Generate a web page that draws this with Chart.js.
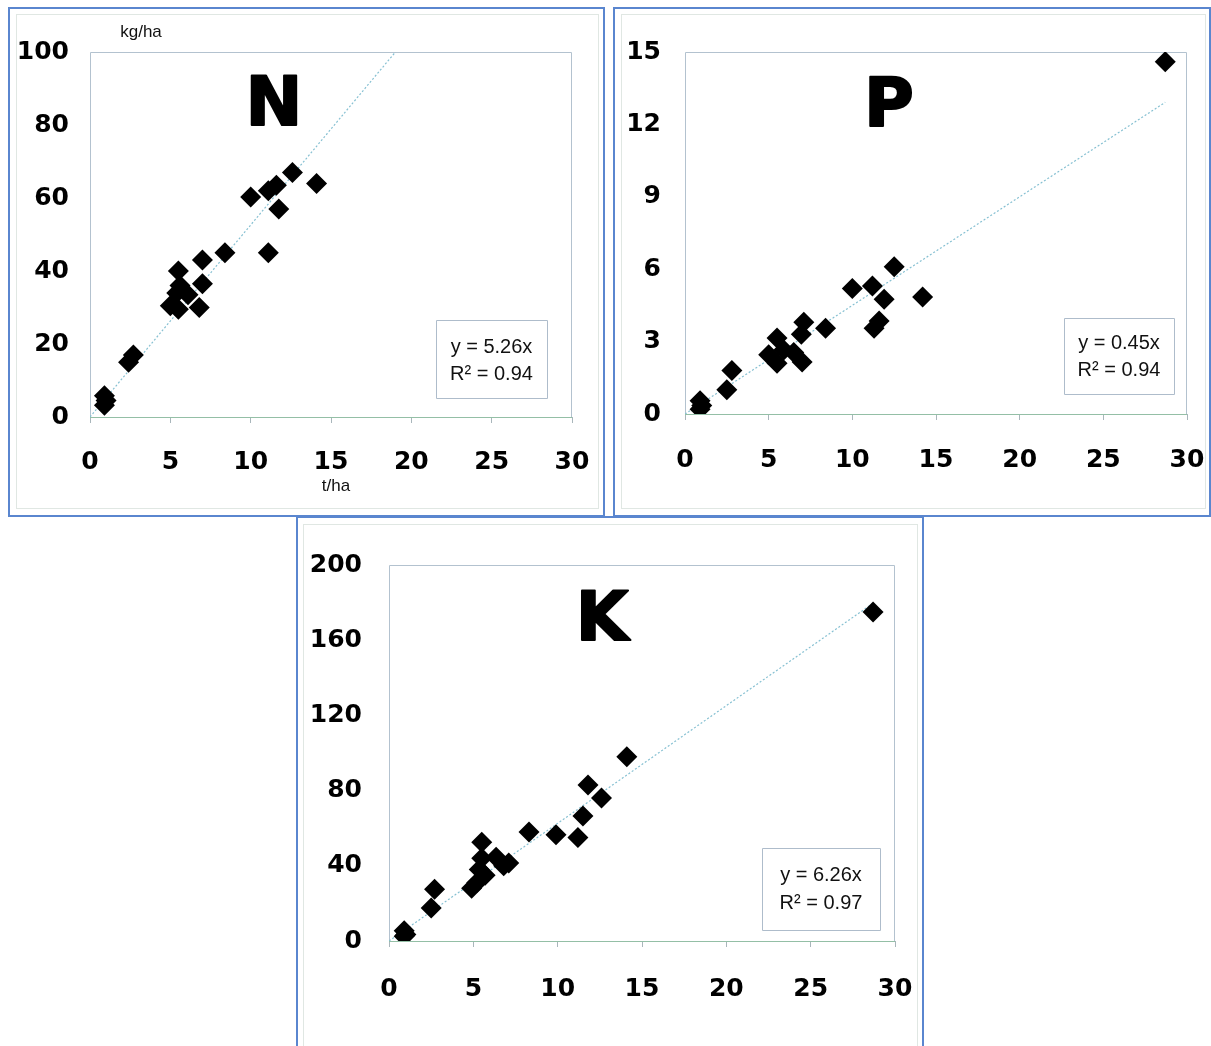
<!DOCTYPE html>
<html><head><meta charset="utf-8">
<script src="https://cdn.jsdelivr.net/npm/chart.js@4"></script>
<style>
html,body{margin:0;padding:0;background:#fff}
body{width:1211px;height:1046px;overflow:hidden;position:relative}
.panel{position:absolute;border:2px solid #5a86cf;box-sizing:border-box;background:#fff}
.inner{position:absolute;border:1px solid #e0e7e3;box-sizing:border-box}
canvas{position:absolute}
</style></head><body>
<div class="panel" style="left:8px;top:7px;width:597px;height:510px"></div>
<div class="inner" style="left:16px;top:14px;width:583px;height:495px"></div>
<div class="panel" style="left:613px;top:7px;width:598px;height:510px"></div>
<div class="inner" style="left:621px;top:14px;width:585px;height:495px"></div>
<div class="panel" style="left:296px;top:516px;width:628px;height:540px"></div>
<div class="inner" style="left:303px;top:524px;width:615px;height:530px"></div>
<canvas id="cN"></canvas>
<canvas id="cP"></canvas>
<canvas id="cK"></canvas>
<script>
// ---- data (x = yield t/ha, y = uptake kg/ha) ----
const xTickValues = [0, 5, 10, 15, 20, 25, 30];
const nX = [0.9, 1.0, 0.9, 2.4, 2.7, 5.0, 5.4, 5.5, 5.5, 5.6, 6.1, 6.8, 7.0, 7.0, 8.4, 10.0, 11.1, 11.1, 11.6, 11.75, 12.6, 14.1];
const nY = [5.8, 4.5, 3.2, 15, 17, 30.5, 34, 29.5, 40, 36, 33.5, 30, 36.5, 43, 45, 60.3, 62, 45, 63.5, 57, 67, 64];
const pX = [0.9, 1.0, 0.9, 2.5, 2.8, 5.0, 5.5, 5.5, 5.9, 6.5, 7.0, 6.95, 7.1, 8.4, 10.0, 11.2, 11.9, 11.3, 11.6, 12.5, 14.2, 28.7];
const pY = [0.55, 0.35, 0.2, 1.0, 1.8, 2.45, 3.15, 2.1, 2.65, 2.55, 2.15, 3.3, 3.8, 3.55, 5.2, 5.3, 4.75, 3.55, 3.85, 6.1, 4.85, 14.6];
const kX = [0.9, 1.0, 0.9, 2.5, 2.7, 4.9, 5.2, 5.35, 5.5, 5.5, 5.7, 6.35, 6.8, 7.1, 8.3, 9.9, 11.2, 11.5, 11.8, 12.6, 14.1, 28.7];
const kY = [5.5, 3.5, 2.5, 17.5, 27.5, 28, 31, 38, 44, 52.5, 35, 44.5, 40, 41.5, 58, 56.5, 55, 66.5, 83, 76, 98, 175];
const trendX = [0, 28.7];
const slopeN = 5.26, slopeP = 0.45, slopeK = 6.26;
const r2N = '0.94', r2P = '0.94', r2K = '0.97';
const yTicksN = [0, 20, 40, 60, 80, 100];
const yTicksP = [0, 3, 6, 9, 12, 15];
const yTicksK = [0, 40, 80, 120, 160, 200];

const pts = (xs, ys) => xs.map((x, i) => ({x: x, y: ys[i]})).filter(p => p.y !== null);
const trend = (s) => trendX.map(x => ({x: x, y: s * x}));

const deco = {
  id: 'deco',
  beforeDatasetsDraw(chart) {
    const a = chart.chartArea, ctx = chart.ctx;
    ctx.save();
    ctx.lineWidth = 1;
    ctx.strokeStyle = '#b3c2cf';
    ctx.beginPath();
    ctx.moveTo(a.left + 0.5, a.bottom); ctx.lineTo(a.left + 0.5, a.top + 0.5);
    ctx.lineTo(a.right - 0.5, a.top + 0.5); ctx.lineTo(a.right - 0.5, a.bottom);
    ctx.stroke();
    ctx.strokeStyle = '#94bfa6';
    ctx.beginPath(); ctx.moveTo(a.left, a.bottom + 0.5); ctx.lineTo(a.right, a.bottom + 0.5); ctx.stroke();
    ctx.restore();
  },
  afterDraw(chart) {
    const o = chart.options.plugins.deco, ctx = chart.ctx;
    if (!o) return;
    const ox = o.ox, oy = o.oy;
    ctx.save();
    ctx.fillStyle = '#000'; ctx.strokeStyle = '#000';
    ctx.textAlign = 'center'; ctx.textBaseline = 'middle';
    ctx.font = 'bold 68px "DejaVu Sans"';
    ctx.lineWidth = 2; ctx.lineJoin = 'round';
    ctx.fillText(o.letter, o.letterPos[0] - ox, o.letterPos[1] - oy);
    ctx.strokeText(o.letter, o.letterPos[0] - ox, o.letterPos[1] - oy);
    // equation box
    const b = o.box;
    ctx.strokeStyle = '#aebccb'; ctx.lineWidth = 1;
    ctx.strokeRect(b[0] - ox + 0.5, b[1] - oy + 0.5, b[2] - b[0], b[3] - b[1]);
    ctx.font = '20px "Liberation Sans"';
    ctx.fillStyle = '#111';
    const cx = (b[0] + b[2]) / 2 - ox;
    ctx.fillText(o.lines[0], cx, o.lineY[0] - oy);
    ctx.fillText(o.lines[1], cx, o.lineY[1] - oy);
    if (o.titles) {
      ctx.font = '17px "Liberation Sans"';
      o.titles.forEach(t => ctx.fillText(t.text, t.x - ox, t.y - oy));
    }
    ctx.restore();
  }
};

function build(id, g) {
  const cv = document.getElementById(id);
  cv.style.left = g.cl + 'px'; cv.style.top = g.ct + 'px';
  cv.width = g.cw; cv.height = g.ch;
  cv.style.width = g.cw + 'px'; cv.style.height = g.ch + 'px';
  const tickFont = {family: 'DejaVu Sans', weight: 'bold', size: 25};
  new Chart(cv, {
    type: 'scatter',
    data: {datasets: [
      {data: pts(g.xs, g.ys), pointStyle: 'rectRot', pointRadius: 10.5, pointHoverRadius: 10.5,
       backgroundColor: '#000', borderColor: '#000', borderWidth: 0, order: 0},
      {data: trend(g.slope), showLine: true, pointRadius: 0, borderColor: '#86c0d2', borderWidth: 1.2,
       borderDash: [2, 2], order: 1}
    ]},
    options: {
      responsive: false, animation: false, devicePixelRatio: 1,
      layout: {padding: {left: 0, top: g.pt - g.ct, right: (g.cl + g.cw) - g.pr, bottom: 0}},
      plugins: {legend: {display: false}, tooltip: {enabled: false},
        deco: {ox: g.cl, oy: g.ct, letter: g.letter, letterPos: g.letterPos, box: g.box,
               lines: ['y = ' + g.slope.toFixed(2) + 'x', 'R\u00b2 = ' + g.r2], lineY: g.lineY, titles: g.titles}},
      scales: {
        x: {type: 'linear', min: 0, max: 30,
            afterBuildTicks: s => { s.ticks = xTickValues.map(v => ({value: v})); },
            afterFit: s => { s.height = (g.ct + g.ch) - g.pb; s.paddingLeft = 0; s.paddingRight = 0; },
            ticks: {color: '#000', font: tickFont, padding: g.xpad, maxRotation: 0},
            grid: {display: true, drawOnChartArea: false, drawTicks: true, tickLength: 6, color: '#a9b6bb'},
            border: {display: false}},
        y: {type: 'linear', min: g.yt[0], max: g.yt[g.yt.length - 1],
            afterBuildTicks: s => { s.ticks = g.yt.map(v => ({value: v})); },
            afterFit: s => { s.width = g.pl - g.cl; s.paddingTop = 0; s.paddingBottom = 0; },
            ticks: {color: '#000', font: tickFont, padding: g.ypad},
            grid: {display: false, drawTicks: false},
            border: {display: false}}
      }
    },
    plugins: [deco]
  });
}

build('cN', {cl: 9, ct: 7, cw: 596, ch: 510, pl: 90, pr: 572, pt: 52, pb: 417, xpad: 24, ypad: 21,
  xs: nX, ys: nY, slope: slopeN, r2: r2N, yt: yTicksN, letter: 'N', letterPos: [274, 107],
  box: [436, 320, 547, 398], lineY: [347, 374],
  titles: [{text: 'kg/ha', x: 141, y: 32}, {text: 't/ha', x: 336, y: 486}]});
build('cP', {cl: 614, ct: 7, cw: 597, ch: 510, pl: 685, pr: 1187, pt: 52, pb: 414, xpad: 25, ypad: 24,
  xs: pX, ys: pY, slope: slopeP, r2: r2P, yt: yTicksP, letter: 'P', letterPos: [889, 108],
  box: [1064, 318, 1174, 394], lineY: [343, 370], titles: null});
build('cK', {cl: 297, ct: 517, cw: 627, ch: 529, pl: 389, pr: 895, pt: 565, pb: 941, xpad: 27, ypad: 27,
  xs: kX, ys: kY, slope: slopeK, r2: r2K, yt: yTicksK, letter: 'K', letterPos: [602, 622],
  box: [762, 848, 880, 930], lineY: [875, 903], titles: null});
</script>
</body></html>
